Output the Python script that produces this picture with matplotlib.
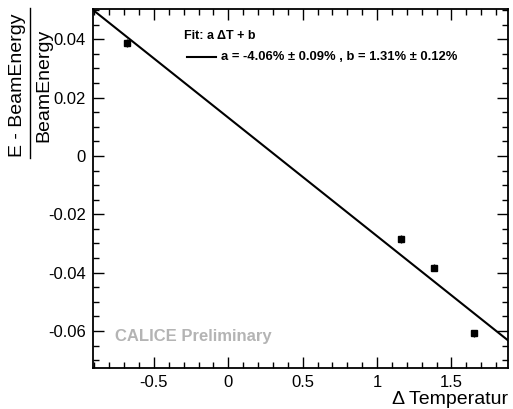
import matplotlib
matplotlib.use("Agg")
import matplotlib.pyplot as plt
import numpy as np
from matplotlib.ticker import MultipleLocator, FuncFormatter
from matplotlib.lines import Line2D

plt.rcParams['font.family'] = ['Liberation Sans', 'DejaVu Sans']

# data
delta_T = [-0.681, 1.163, 1.380, 1.653]
rel_dev = [0.0387, -0.0284, -0.0383, -0.0608]
rel_err = [0.0014, 0.0013, 0.0013, 0.0012]
fit_a = -0.0406
fit_b = 0.0131
xlim = (-0.91, 1.88)
ylim = (-0.0727, 0.0504)

fig = plt.figure(figsize=(5.13, 4.09), dpi=100)
ax = fig.add_axes([0.1813, 0.1002, 0.809, 0.878])

xs = np.array(xlim)
ax.plot(xs, fit_a * xs + fit_b, color='black', lw=1.5)
ax.errorbar(delta_T, rel_dev, yerr=rel_err, fmt='s', color='black',
            ms=3.8, elinewidth=1, capsize=0)

ax.set_xlim(*xlim)
ax.set_ylim(*ylim)
ax.xaxis.set_major_locator(MultipleLocator(0.5))
ax.xaxis.set_minor_locator(MultipleLocator(0.1))
ax.yaxis.set_major_locator(MultipleLocator(0.02))
ax.yaxis.set_minor_locator(MultipleLocator(0.005))

def fmt(v, pos):
    if abs(v) < 1e-9:
        return '0'
    return '%.2f' % v
def fmtx(v, pos):
    if abs(v) < 1e-9:
        return '0'
    return '%g' % v
ax.yaxis.set_major_formatter(FuncFormatter(fmt))
ax.xaxis.set_major_formatter(FuncFormatter(fmtx))

ax.tick_params(which='both', direction='in', top=True, right=True,
               labelsize=12, width=1)
ax.tick_params(which='major', length=8, pad=5)
ax.tick_params(which='minor', length=4)
for s in ax.spines.values():
    s.set_linewidth(1.3)

# x label
fig.text(508/513, 1-399/409, '\u0394 Temperatur', ha='right', va='center', fontsize=14)

# y label as fraction
yc = 1 - 85/409
fig.text(18/513, yc, 'E - BeamEnergy', rotation=90, ha='center', va='center', fontsize=14)
fig.text(44/513, yc, 'BeamEnergy', rotation=90, ha='center', va='center', fontsize=14)
fig.add_artist(Line2D([30/513, 30/513], [1-8/409, 1-158/409], color='black', lw=1,
                      transform=fig.transFigure))

# legend
fig.text(184/513, 1-36/409, 'Fit: a \u0394T + b', ha='left', va='center',
         fontsize=9, fontweight='bold')
fig.add_artist(Line2D([187/513, 216/513], [1-57/409, 1-57/409], color='black', lw=1.5,
                      transform=fig.transFigure))
fig.text(221/513, 1-57/409, 'a = -4.06% \u00b1 0.09% , b = 1.31% \u00b1 0.12%',
         ha='left', va='center', fontsize=9.35, fontweight='bold')

# CALICE Preliminary
fig.text(115/513, 1-337/409, 'CALICE Preliminary', ha='left', va='center',
         fontsize=12, fontweight='bold', color='#b4b4b4')

fig.savefig('out.png', dpi=100)
